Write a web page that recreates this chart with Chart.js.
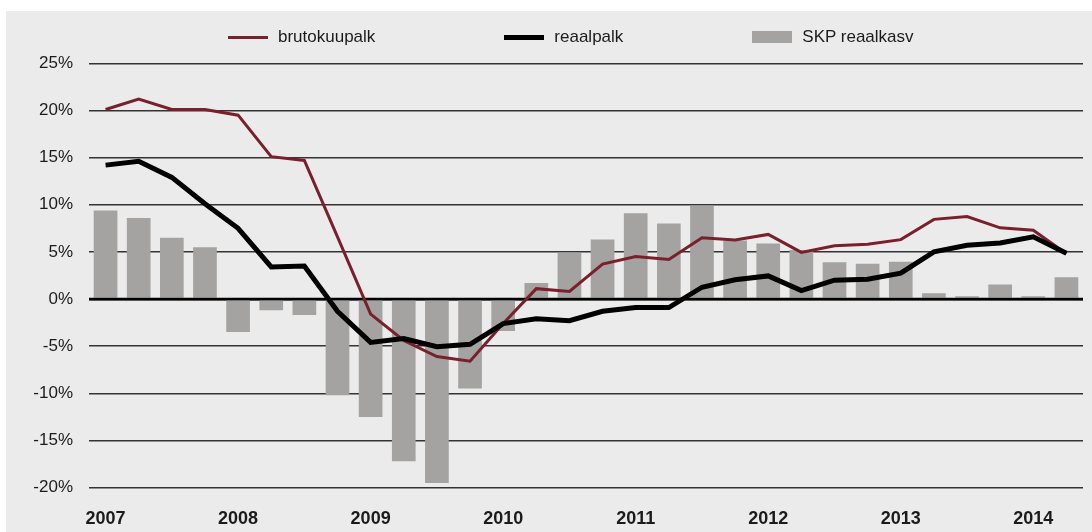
<!DOCTYPE html>
<html>
<head>
<meta charset="utf-8">
<script src="https://cdn.jsdelivr.net/npm/chart.js@4.4.1/dist/chart.umd.min.js"></script>
<style>
  html, body { margin: 0; padding: 0; background: #fff; }
  #panel { position: absolute; left: 6px; top: 11px; width: 1086px; height: 521px; background: #ebebeb; }
  #legend { position: absolute; left: 222px; top: 16px; height: 20px; display: flex; align-items: center; gap: 129px;
            font: 17px "Liberation Sans", Arial, Helvetica, sans-serif; color: #1b1b1b; }
  #legend .item { display: flex; align-items: center; white-space: nowrap; }
  #legend .swatch { width: 40px; margin-right: 10px; }
</style>
</head>
<body>
<div id="panel">
  <canvas id="c-wages"></canvas>
  <div id="legend"></div>
</div>
<script>
const years = ["2007", "2008", "2009", "2010", "2011", "2012", "2013", "2014"];
const quarters = years.flatMap((y) => ["Q1", "Q2", "Q3", "Q4"].map((q) => y + " " + q)).slice(0, 30);

// brutokuupalk, reaalpalk, SKP reaalkasv (% y/y)
const bruto = [20.1, 21.2, 20.1, 20.1, 19.5, 15.1, 14.7, 6.6, -1.6, -4.4, -6.1, -6.6, -2.6, 1.1, 0.8,
  3.7, 4.5, 4.2, 6.5, 6.25, 6.85, 4.95, 5.65, 5.8, 6.3, 8.45, 8.75, 7.55, 7.3, 4.8];
const reaal = [14.2, 14.6, 12.9, 10.1, 7.5, 3.4, 3.5, -1.3, -4.6, -4.2, -5.05, -4.8, -2.6, -2.1, -2.3,
  -1.3, -0.9, -0.9, 1.25, 2.05, 2.45, 0.9, 2.0, 2.1, 2.75, 5.0, 5.7, 5.95, 6.6, 4.85];
const skp = [9.4, 8.6, 6.5, 5.5, -3.5, -1.2, -1.7, -10.2, -12.5, -17.2, -19.5, -9.5, -3.4, 1.7, 4.9,
  6.3, 9.1, 8.0, 9.9, 6.2, 5.9, 5.2, 3.9, 3.75, 3.95, 0.6, 0.3, 1.55, 0.3, 2.3];

const yMin = -20;
const yMax = 25;
const yStep = 5;

const textColor = "#1b1b1b";
Chart.defaults.font.family = '"Liberation Sans", Arial, Helvetica, sans-serif';
Chart.defaults.color = textColor;

// zero line sits on top of the bars
const zeroLine = {
  id: "zeroLine",
  afterDatasetDraw(chart, args) {
    if (args.meta.type !== "bar") return;
    const { ctx, chartArea, scales } = chart;
    const y = scales.y.getPixelForValue(0);
    ctx.save();
    ctx.strokeStyle = "#000";
    ctx.lineWidth = 2.5;
    ctx.beginPath();
    ctx.moveTo(chartArea.left, y);
    ctx.lineTo(chartArea.right, y);
    ctx.stroke();
    ctx.restore();
  }
};

const htmlLegend = {
  id: "htmlLegend",
  afterUpdate(chart) {
    const box = document.getElementById("legend");
    box.innerHTML = "";
    chart.data.datasets.forEach((ds) => {
      const item = document.createElement("div");
      item.className = "item";
      const sw = document.createElement("span");
      sw.className = "swatch";
      const isLine = ds.type === "line";
      sw.style.height = (isLine ? ds.borderWidth : 12) + "px";
      sw.style.background = isLine ? ds.borderColor : ds.backgroundColor;
      const label = document.createElement("span");
      label.textContent = ds.label;
      item.appendChild(sw);
      item.appendChild(label);
      box.appendChild(item);
    });
  }
};

new Chart(document.getElementById("c-wages"), {
  type: "bar",
  data: {
    labels: quarters,
    datasets: [
      { type: "line", label: "brutokuupalk", data: bruto, borderColor: "#7a1f2c", borderWidth: 3, pointRadius: 0, tension: 0, fill: false, order: 2 },
      { type: "line", label: "reaalpalk", data: reaal, borderColor: "#000000", borderWidth: 5, pointRadius: 0, tension: 0, fill: false, order: 1 },
      { type: "bar", label: "SKP reaalkasv", data: skp, backgroundColor: "#a4a3a1", barPercentage: 0.715, categoryPercentage: 1, order: 3 }
    ]
  },
  options: {
    responsive: true,
    maintainAspectRatio: false,
    animation: false,
    layout: { padding: { top: 52.3, right: 9, bottom: 0, left: 0 } },
    plugins: { legend: { display: false }, tooltip: { enabled: false } },
    scales: {
      x: {
        grid: { display: false },
        border: { display: false },
        ticks: {
          autoSkip: false,
          maxRotation: 0,
          padding: 13,
          color: textColor,
          font: { size: 18, weight: "bold" },
          callback: (value, index) => (index % 4 === 0 ? quarters[index].slice(0, 4) : "")
        },
        afterFit: (scale) => { scale.height = 44.4; }
      },
      y: {
        min: yMin,
        max: yMax,
        border: { display: false },
        grid: {
          drawTicks: false,
          color: (ctx) => (ctx.tick.value === 0 ? "#000" : "#333"),
          lineWidth: (ctx) => (ctx.tick.value === 0 ? 2.5 : 1.5)
        },
        ticks: {
          stepSize: yStep,
          padding: 16,
          color: textColor,
          font: { size: 17 },
          callback: (value) => value + "%"
        },
        afterFit: (scale) => { scale.width = 83; }
      }
    }
  },
  plugins: [zeroLine, htmlLegend]
});
</script>
</body>
</html>
